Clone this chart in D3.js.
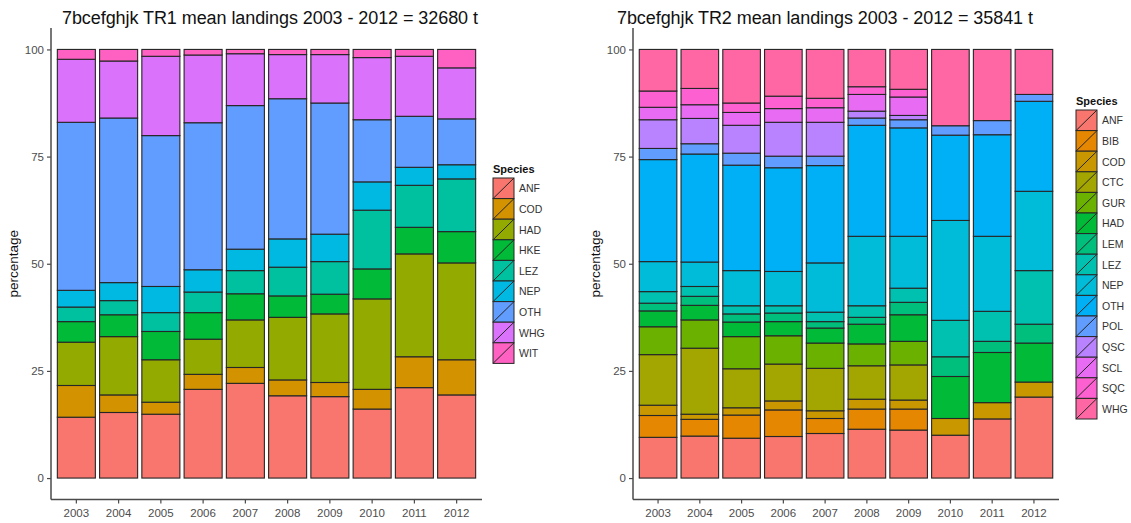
<!DOCTYPE html>
<html><head><meta charset="utf-8">
<script src="https://cdn.jsdelivr.net/npm/d3@7/dist/d3.min.js"></script>
<style>body{margin:0;background:#fff;} svg{display:block;font-family:"Liberation Sans",Arial,sans-serif;}</style>
</head><body>
<svg id="chart" width="1131" height="523"></svg>
<script>
const years = ["2003","2004","2005","2006","2007","2008","2009","2010","2011","2012"];
const yTicks = [0, 25, 50, 75, 100];

// TR1
const title1 = "7bcefghjk TR1 mean landings 2003 - 2012 = 32680 t";
const species1 = ["ANF","COD","HAD","HKE","LEZ","NEP","OTH","WHG","WIT"];
const colors1 = ["#F8766D","#D39200","#93AA00","#00BA38","#00C19F","#00B9E3","#619CFF","#DB72FB","#FF61C3"];
const tr1ANF = [14.2,15.3,14.9,20.7,22.1,19.2,19.0,16.1,21.1,19.4];
const tr1COD = [7.4,4.1,2.8,3.5,3.7,3.7,3.3,4.6,7.2,8.2];
const tr1HAD = [10.1,13.6,9.9,8.2,11.1,14.6,16.0,21.1,24.0,22.6];
const tr1HKE = [4.8,5.1,6.6,6.2,6.1,5.0,4.6,7.0,6.2,7.3];
const tr1LEZ = [3.4,3.3,4.4,4.8,5.4,6.7,7.6,13.7,9.8,12.3];
const tr1NEP = [3.9,4.2,6.1,5.2,5.0,6.6,6.4,6.6,4.2,3.3];
const tr1OTH = [39.2,38.4,35.2,34.3,33.5,32.7,30.6,14.5,11.9,10.7];
const tr1WHG = [14.7,13.3,18.5,15.8,12.1,10.3,11.3,14.5,14.0,11.9];
const tr1WIT = [2.3,2.7,1.6,1.3,1.0,1.2,1.2,1.9,1.6,4.3];
const values1 = [tr1ANF,tr1COD,tr1HAD,tr1HKE,tr1LEZ,tr1NEP,tr1OTH,tr1WHG,tr1WIT];

// TR2
const title2 = "7bcefghjk TR2 mean landings 2003 - 2012 = 35841 t";
const species2 = ["ANF","BIB","COD","CTC","GUR","HAD","LEM","LEZ","NEP","OTH","POL","QSC","SCL","SQC","WHG"];
const colors2 = ["#F8766D","#E58700","#C99800","#A3A500","#6BB100","#00BA38","#00BF7D","#00C0AF","#00BCD8","#00B0F6","#619CFF","#B983FF","#E76BF3","#FD61D1","#FF67A4"];
const tr2ANF = [9.5,9.8,9.3,9.7,10.4,11.4,11.2,10.0,13.8,18.9];
const tr2BIB = [5.1,3.9,5.4,6.2,3.5,4.7,4.9,0,0,0];
const tr2COD = [2.4,1.2,1.7,2.1,1.8,2.3,2.1,3.9,3.8,3.5];
const tr2CTC = [11.8,15.4,9.1,8.6,9.9,7.8,8.2,0,0,0];
const tr2GUR = [6.5,6.6,7.5,6.6,5.9,5.1,5.5,0,0,0];
const tr2HAD = [3.7,3.4,3.4,3.3,3.5,4.6,6.2,9.8,11.7,9.1];
const tr2LEM = [1.8,2.1,1.9,2.0,1.5,1.6,2.9,4.6,2.6,4.4];
const tr2LEZ = [2.7,2.3,1.9,1.7,2.2,2.7,3.3,8.5,7.0,12.5];
const tr2NEP = [7.0,5.7,8.2,8.0,11.5,16.2,12.1,23.3,17.5,18.5];
const tr2OTH = [23.8,25.2,24.6,24.2,22.7,25.9,25.3,19.9,23.7,21.0];
const tr2POL = [2.6,2.4,2.8,2.7,2.2,1.7,1.9,2.2,3.3,1.6];
const tr2QSC = [6.7,5.9,6.5,7.9,7.9,1.6,1.0,0,0,0];
const tr2SCL = [2.9,3.2,3.0,3.2,3.4,3.9,4.3,0,0,0];
const tr2SQC = [3.8,3.8,2.2,2.9,2.2,1.8,1.8,0,0,0];
const tr2WHG = [9.7,9.1,12.5,10.9,11.4,8.7,9.3,17.8,16.6,10.5];
const values2 = [tr2ANF,tr2BIB,tr2COD,tr2CTC,tr2GUR,tr2HAD,tr2LEM,tr2LEZ,tr2NEP,tr2OTH,tr2POL,tr2QSC,tr2SCL,tr2SQC,tr2WHG];

const svg = d3.select("#chart");
const axisColor = "#4a4a4a", textColor = "#4d4d4d", strokeColor = "#262626";

function panel(cfg) {
  const {x0, x1, title, titleX, species, colors, values, ylabX, legX, legY} = cfg;
  const yTop = 28, yBot = 499.5;
  const x = d3.scaleBand().domain(years).range([x0, x1]).paddingInner(0.1).paddingOuter(0.15);
  const y = d3.scaleLinear().domain([-5, 105]).range([yBot, yTop]);
  const color = d3.scaleOrdinal().domain(species).range(colors);

  const rows = years.map((yr, i) => {
    const r = {year: yr};
    const tot = d3.sum(values, v => v[i]);
    species.forEach((s, k) => r[s] = values[k][i] / tot * 100);
    return r;
  });
  const stacked = d3.stack().keys(species)(rows);
  const g = svg.append("g");
  stacked.forEach(layer => {
    g.selectAll(null).data(layer.filter(d => d[1] - d[0] > 0.01)).enter().append("rect")
      .attr("x", d => x(d.data.year)).attr("width", x.bandwidth())
      .attr("y", d => y(d[1])).attr("height", d => y(d[0]) - y(d[1]))
      .attr("fill", color(layer.key)).attr("stroke", strokeColor).attr("stroke-width", 1.1);
  });

  // axes
  const ya = svg.append("g").attr("transform", `translate(${x0},0)`)
    .call(d3.axisLeft(y).tickValues(yTicks).tickSize(4).tickPadding(3));
  ya.select(".domain").remove();
  ya.selectAll(".tick line").attr("stroke", axisColor).attr("stroke-width", 1.2);
  ya.selectAll(".tick text").attr("fill", textColor).attr("font-size", 11.5).attr("font-family", "Liberation Sans, Arial, sans-serif");
  svg.append("line").attr("x1", x0).attr("x2", x0).attr("y1", yTop).attr("y2", yBot)
    .attr("stroke", axisColor).attr("stroke-width", 1.5);

  const xa = svg.append("g").attr("transform", `translate(0,${yBot})`)
    .call(d3.axisBottom(x).tickSize(4).tickPadding(5));
  xa.select(".domain").remove();
  xa.selectAll(".tick line").attr("stroke", axisColor).attr("stroke-width", 1.2);
  xa.selectAll(".tick text").attr("fill", textColor).attr("font-size", 11.5).attr("font-family", "Liberation Sans, Arial, sans-serif");
  svg.append("line").attr("x1", x0).attr("x2", x1).attr("y1", yBot).attr("y2", yBot)
    .attr("stroke", axisColor).attr("stroke-width", 1.5);

  svg.append("text").attr("x", titleX).attr("y", 24).attr("font-size", 18).attr("fill", "#111")
    .attr("textLength", 416).attr("lengthAdjust", "spacing").text(title);
  svg.append("text").attr("transform", `translate(${ylabX},${(yTop + yBot) / 2}) rotate(-90)`)
    .attr("text-anchor", "middle").attr("font-size", 13.5).attr("fill", "#111").text("percentage");

  // legend
  const leg = svg.append("g").attr("transform", `translate(${legX},${legY})`);
  leg.append("text").attr("x", 0).attr("y", -5).attr("font-size", 11).attr("font-weight", "bold").attr("fill", "#111").text("Species");
  const kw = 21, kh = 20.6;
  species.forEach((s, i) => {
    const gy = i * kh;
    leg.append("rect").attr("x", 0).attr("y", gy).attr("width", kw).attr("height", kh)
      .attr("fill", color(s)).attr("stroke", strokeColor).attr("stroke-width", 1);
    leg.append("line").attr("x1", 0).attr("y1", gy + kh).attr("x2", kw).attr("y2", gy)
      .attr("stroke", strokeColor).attr("stroke-width", 1);
    leg.append("text").attr("x", kw + 5).attr("y", gy + kh / 2 + 4).attr("font-size", 10.5).attr("fill", "#333").text(s);
  });
}

panel({x0: 51, x1: 482, title: title1, titleX: 62, species: species1, colors: colors1, values: values1, ylabX: 18, legX: 493, legY: 178});
panel({x0: 633, x1: 1059, title: title2, titleX: 617, species: species2, colors: colors2, values: values2, ylabX: 600, legX: 1076, legY: 110});
</script>
</body></html>
